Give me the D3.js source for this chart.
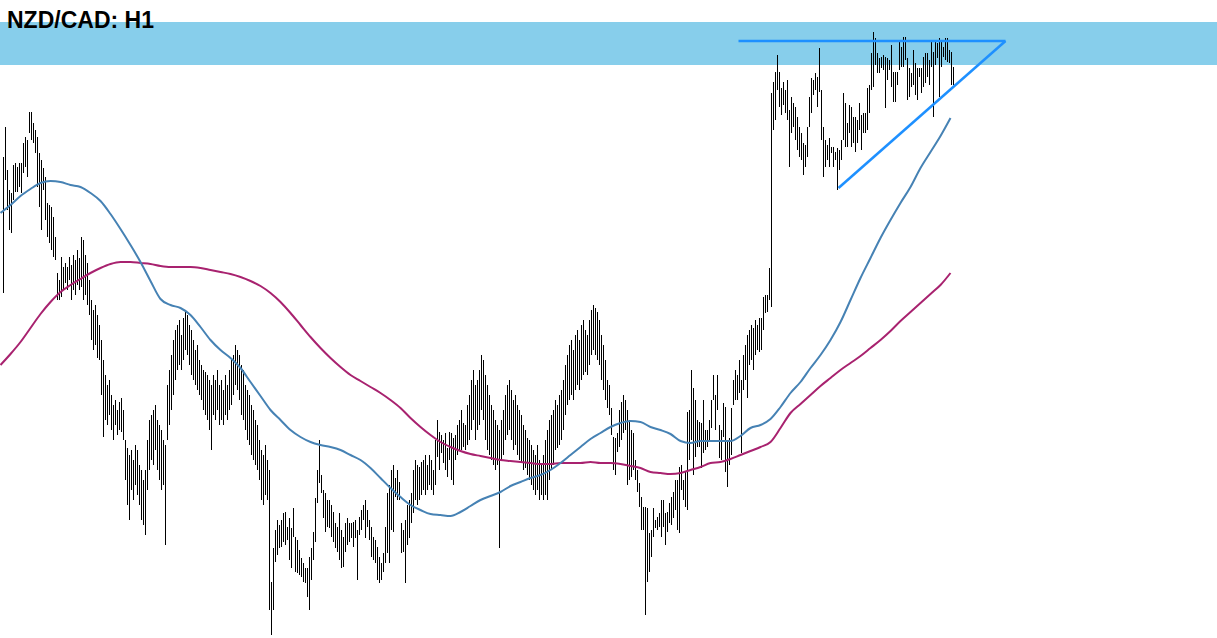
<!DOCTYPE html>
<html>
<head>
<meta charset="utf-8">
<script src="https://cdn.jsdelivr.net/npm/d3@7"></script>
<style>
  body { margin: 0; background: #fff; overflow: hidden; }
  svg { display: block; }
</style>
</head>
<body>
<svg id="chart"></svg>
<script>
// price in points above chart base, one bar per hour
var highs = [
  483,513,470,450,447,475,477,473,477,477,497,503,500,528,528,517,510,503,487,480,472,463,437,435,433,423,403,367,360,383,373,377,373,383,
  375,385,380,390,382,403,400,385,377,360,
  340,330,335,325,315, 300,280,265,255,260, 245,235,240,230,238,242,230, 200,192,185, 190,180,195,190, 175,170,160,170,
  200,220,225,230,235,220,215,210,200,195, 255,270,285, 300,310,315, 320,305,322, 330,325,315, 310,300, 290,295,280, 275,270,
  268,265,260,255, 265,260,270,255,260,250,265,255,270, 280,285,295,290,285, 275,270,255,250,245, 235,230,220,215,200,
  190,185,195,180,170,
  58,92,110,120,115,120,127,128,113,122,112,132,103,100,90,82,77,72,72,83,92,108,
  142,170,200,165,150,147,140,140,135,128,117,113,127,110,103,117,122,117,117,118,120,110,123,130,135,140,130,120,113,103,
  100,93,83,77,87,113,147,155,170,175,162,170,158,117,110,120,135,140,147,170,
  180,175,173,178,180,185,175,185,180,170,200,220,208,205,200,207,192,208,207,202,
  205,215,220,230,217,215,235,245,260,270,255,260,270,285,280,265,255,245,235,230,
  220,215,210,220,230,245,255,260,250,240,245,235,230,225,215,210,202,200,195,190,
  185,195,180,175,185,200,210,220,225,230,240,235,245,250,260,275,285,295,300,290,
  305,310,300,315,320,310,305,320,330,335,332,328,320,305,295,
  280,260,255,232,203,202,207,230,238,245,240,230,220,210,207,180,170,157,143,133,
  133,132,107,110,132,120,123,127,140,140,127,128,137,143,148,160,160,173,175,160,
  168,228,230,270,252,240,220,218,217,240,210,210,220,240,265,245,265,215,210,237,
  233,200,202,232,260,270,265,280,260,285,295,305,310,315,312,320,315,322,322,343,
  345,345,372,
  547,558,568,585,568,552,558,550,560,530,543,537,533,523,513,507,497,495,513,543,
  562,560,567,563,592,550,513,500,495,502,493,493,488,492,490,500,547,537,517,535,
  533,523,523,520,537,525,527,527,552,555,587,608,602,587,582,583,585,583,582,580,
  595,568,568,568,598,593,603,603,582,572,567,590,577,572,572,572,583,587,587,580,
  600,588,598,597,602,600,593,602,602,590,588,573
];
var lows = [
  347,460,430,410,407,440,448,448,453,447,467,473,463,507,500,497,487,453,433,410,450,420,403,397,390,383,380,340,340,343,350,357,350,360,
  340,350,345,355,350,353,340,345,335,325,
  300,290,295,282,280, 245,203,220,215,225, 210,200,215,205,210,208,200, 160,135,120, 150,140,155,145, 135,120,115,105,
  150,170,180,175,190,170,160,150,155,95, 200,215,230, 245,260,270, 275,270,280, 290,285,275, 265,260, 255,250,245, 240,230,
  225,220,210,190, 225,220,230,215,220,215,225,220,230, 235,245,255,250,240, 225,220,210,200,195, 185,180,175,170,160,
  140,135,145,140,30,
  5,30,78,85,92,93,98,95,100,80,72,103,68,67,65,63,58,57,43,30,60,80,
  98,137,157,147,122,108,113,112,103,98,92,88,80,72,73,88,95,98,102,93,102,60,105,110,120,102,113,100,83,80,
  77,60,57,60,68,77,87,77,110,108,143,140,140,87,88,57,95,102,117,127,
  140,135,140,145,150,145,150,155,150,145,155,183,170,187,177,170,163,180,160,155,
  180,185,190,190,193,190,195,200,210,220,200,210,215,230,220,200,190,185,180,175,
  170,175,92,180,185,200,205,210,200,190,195,185,180,178,170,172,165,160,155,150,
  145,150,140,145,140,145,140,160,170,175,190,192,195,200,210,225,235,240,245,240,
  250,255,250,260,265,268,265,275,285,290,285,280,275,260,250,
  240,232,225,205,170,165,188,193,200,207,210,155,160,163,170,160,148,133,110,110,
  25,58,68,83,103,112,110,113,103,113,95,108,117,115,122,130,110,107,150,140,
  133,130,180,200,165,183,193,193,172,187,190,193,200,212,240,210,230,182,180,203,
  168,153,175,185,235,240,240,247,187,250,260,242,275,280,270,285,290,288,290,310,
  327,328,340,
  333,510,520,550,533,525,535,527,520,473,507,513,500,490,483,480,465,473,483,513,
  527,545,550,533,548,500,463,473,480,473,487,473,480,450,470,480,500,493,493,507,
  493,497,488,497,510,490,507,507,510,527,550,553,575,567,567,572,570,532,560,570,
  553,538,538,555,570,573,573,580,540,543,553,555,545,540,563,547,553,557,563,555,
  573,523,575,582,543,573,583,580,578,577,555,555
];

// moving averages, sampled every 5 bars
var maFast = [
  427,435,444,451,457,459,458,455,453,447,439,426,411,395,378,359,341,335,332,325,
  313,300,290,282,272,258,244,230,220,210,203,198,195,193,190,185,180,172,162,152,
  143,135,130,126,125,124,128,134,140,144,148,154,158,162,165,170,177,185,193,201,
  207,213,217,219,218,213,210,206,199,197,199,199,199,199,204,212,215,221,233,247,
  258,272,285,300,318,340,362,382,402,420,437,453,472,488,504,522
];
var maSlow = [
  275,286,298,312,326,338,348,355,361,367,372,376,378,378,377,376,374,373,373,373,
  372,370,368,366,363,359,354,347,338,327,315,303,292,282,273,265,259,253,247,240,
  232,222,213,205,198,193,189,186,184,182,180,179,178,177,176,176,177,177,177,178,
  177,177,176,174,172,168,167,166,167,170,173,177,178,181,185,189,193,198,212,227,
  236,245,254,262,270,277,284,292,300,309,319,328,337,346,355,367
];
var maStep = 5;

// resistance zone and drawn trendlines (bar index, price)
var zone = [575, 618];
var resistance = [[367.5, 599], [501, 599]];
var support = [[417.5, 452], [501, 599]];

var title = "NZD/CAD: H1";

var width = 1217;
var height = 638;

var svg = d3.select('#chart')
            .attr('width', width)
            .attr('height', height);

var x = d3.scaleLinear()
          .domain([0, highs.length - 1])
          .range([3.5, 953.5]);

var y = d3.scaleLinear()
          .domain([0, 640])
          .range([640, 0]);

svg.append('rect')
    .attr('x', 0)
    .attr('width', width)
    .attr('y', y(zone[1]))
    .attr('height', y(zone[0]) - y(zone[1]))
    .attr('fill', '#87ceeb');

svg.append('g')
  .selectAll('line')
  .data(highs)
  .enter()
  .append('line')
    .attr('x1', (d, i) => x(i))
    .attr('x2', (d, i) => x(i))
    .attr('y1', d => y(d))
    .attr('y2', (d, i) => y(lows[i]))
    .attr('stroke', '#000')
    .attr('stroke-width', 1)
    .attr('shape-rendering', 'crispEdges');

var maLine = d3.line()
               .x((d, i) => Math.min(x(i * maStep - 1.5), x(highs.length - 1)))
               .y(d => y(d))
               .curve(d3.curveMonotoneX);

svg.append('path')
    .attr('d', maLine(maSlow))
    .attr('fill', 'none')
    .attr('stroke', '#a8226f')
    .attr('stroke-width', 2);

svg.append('path')
    .attr('d', maLine(maFast))
    .attr('fill', 'none')
    .attr('stroke', '#4682b4')
    .attr('stroke-width', 2);

var trend = d3.line()
              .x(d => x(d[0]))
              .y(d => y(d[1]));

[resistance, support].forEach(function(pts){
  svg.append('path')
      .attr('d', trend(pts))
      .attr('fill', 'none')
      .attr('stroke', '#1e90ff')
      .attr('stroke-width', 2.5);
});

svg.append('text')
    .attr('x', 7)
    .attr('y', 28)
    .attr('font-family', '"Liberation Sans", Arial, sans-serif')
    .attr('font-weight', 'bold')
    .attr('font-size', 23)
    .attr('fill', '#000')
    .text(title);
</script>
</body>
</html>
